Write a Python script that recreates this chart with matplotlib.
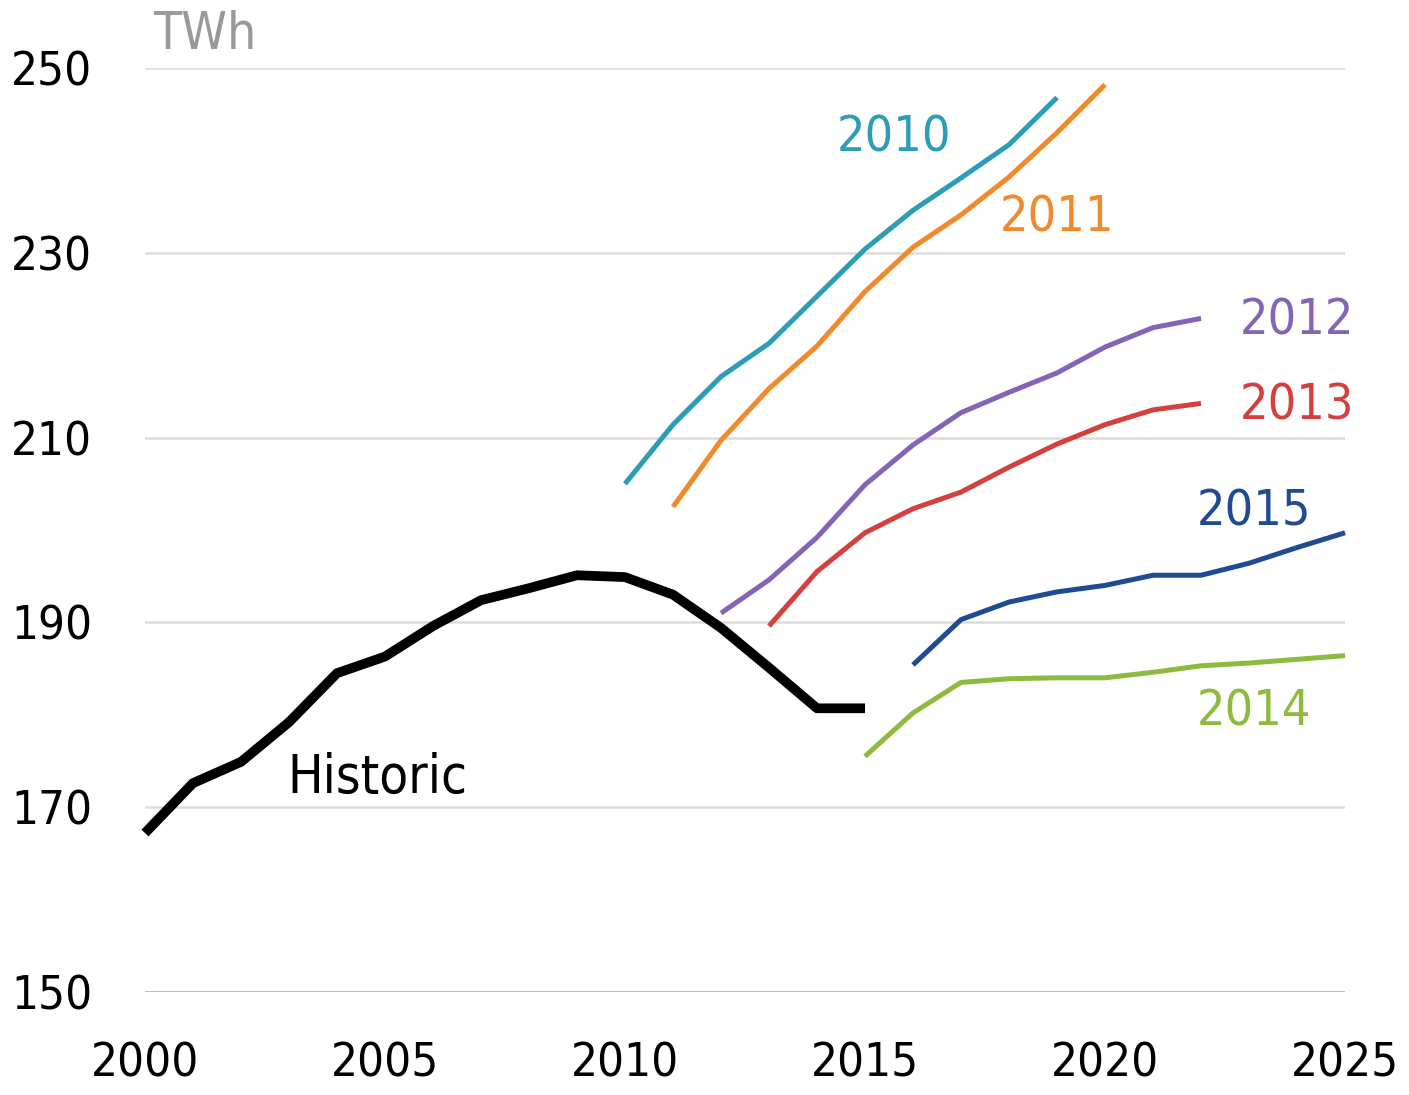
#!/usr/bin/env python3
"""Electricity demand forecasts by vintage vs historic demand (TWh)."""

import matplotlib
matplotlib.use('Agg')
import matplotlib.pyplot as plt

# Historic demand
hist_years = list(range(2000, 2016))
hist_vals = [167.2, 172.6, 174.9, 179.2, 184.5, 186.3, 189.6, 192.4,
             193.7, 195.1, 194.9, 193.0, 189.4, 185.1, 180.7, 180.7]

# Forecast vintages
f2010_years = list(range(2010, 2020))
f2010_vals = [205.0, 211.4, 216.6, 220.2, 225.3, 230.4, 234.6, 238.1, 241.7, 246.8]

f2011_years = list(range(2011, 2021))
f2011_vals = [202.5, 209.7, 215.3, 219.9, 225.8, 230.6, 234.1, 238.2, 243.0, 248.2]

f2012_years = list(range(2012, 2023))
f2012_vals = [191.0, 194.6, 199.2, 204.9, 209.2, 212.7, 214.9, 217.0, 219.8, 221.9, 222.9]

f2013_years = list(range(2013, 2023))
f2013_vals = [189.6, 195.5, 199.7, 202.3, 204.1, 206.8, 209.3, 211.4, 213.0, 213.7]

f2014_years = list(range(2015, 2026))
f2014_vals = [175.5, 180.2, 183.5, 183.9, 184.0, 184.0, 184.6, 185.3, 185.6, 186.0, 186.4]

f2015_years = list(range(2016, 2026))
f2015_vals = [185.4, 190.3, 192.2, 193.3, 194.0, 195.1, 195.1, 196.4, 198.1, 199.7]

y_ticks = [150, 170, 190, 210, 230, 250]
x_ticks = [2000, 2005, 2010, 2015, 2020, 2025]

plt.rcParams['font.family'] = ['DejaVu Sans']
plt.rcParams['font.stretch'] = 'condensed'

fig = plt.figure(figsize=(14.09, 10.95), dpi=100)
ax = fig.add_axes([0.1029, 0.0941, 0.8517, 0.8438])

series = [
    (f2010_years, f2010_vals, '#2b9db6', '2010', 2015.6, 242.5),
    (f2011_years, f2011_vals, '#f08a2c', '2011', 2019.0, 233.8),
    (f2012_years, f2012_vals, '#8464b6', '2012', 2024.0, 222.7),
    (f2013_years, f2013_vals, '#d3403e', '2013', 2024.0, 213.5),
    (f2014_years, f2014_vals, '#8dbb3f', '2014', 2023.1, 180.4),
    (f2015_years, f2015_vals, '#1f4b93', '2015', 2023.1, 202.0),
]

for yrs, vals, col, lab, lx, ly in series:
    ax.plot(yrs, vals, color=col, linewidth=3.6, solid_capstyle='butt',
            clip_on=False, zorder=3)
    ax.text(lx, ly, lab, color=col, fontsize=36, ha='center', va='center')

ax.plot(hist_years, hist_vals, color='black', linewidth=7,
        solid_capstyle='butt', clip_on=False, zorder=4)
ax.text(2004.85, 173.2, 'Historic', color='black', fontsize=38,
        ha='center', va='center')
ax.text(2001.25, 253.6, 'TWh', color='#999999', fontsize=37,
        ha='center', va='center')

ax.set_xlim(2000, 2025)
ax.set_ylim(150, 250)
ax.set_xticks(x_ticks)
ax.set_yticks(y_ticks)
ax.tick_params(axis='both', length=0, labelsize=34)
ax.tick_params(axis='y', pad=38)
ax.tick_params(axis='x', pad=36)

for y in y_ticks:
    ax.axhline(y, color='#a8a8a8' if y == 150 else '#dcdcdc',
               linewidth=1.8, zorder=1)

for s in ax.spines.values():
    s.set_visible(False)

plt.savefig('out.png', dpi=100)
